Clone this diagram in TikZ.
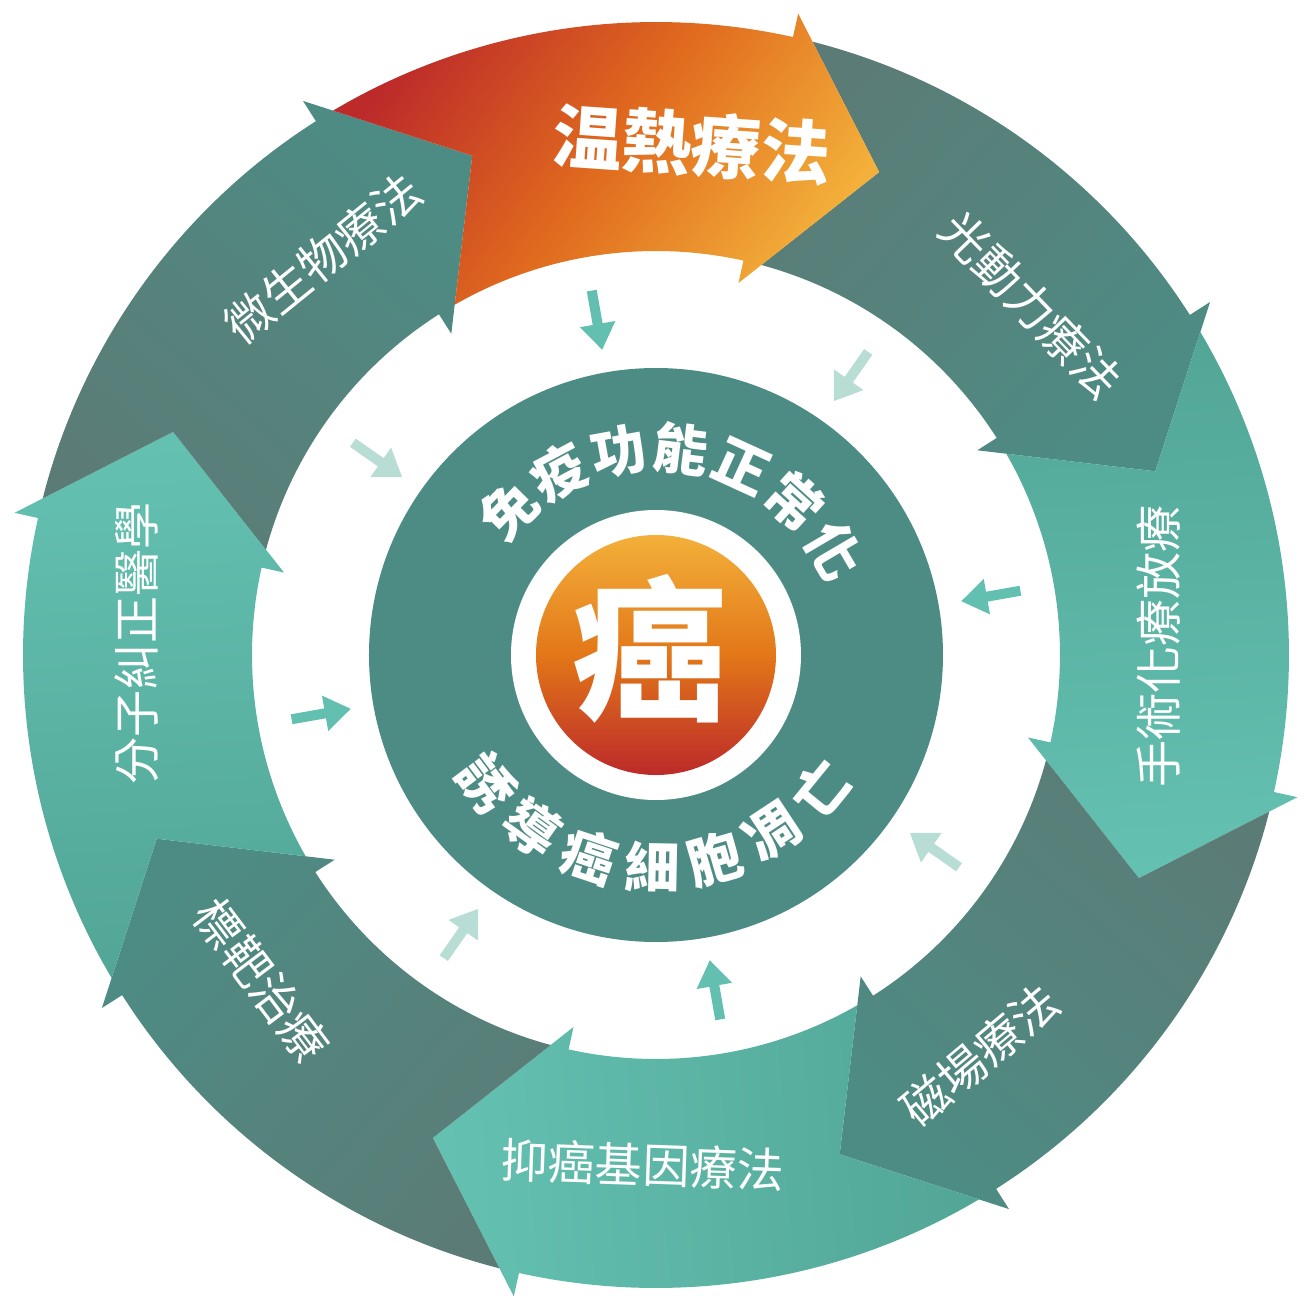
\documentclass[tikz,border=0pt]{standalone}
\usepackage{fontspec}
\setmainfont{Noto Sans CJK TC}
\usetikzlibrary{calc}

\definecolor{darktail}{HTML}{5B7C76}
\definecolor{darkhead}{HTML}{4D8C84}
\definecolor{lighttail}{HTML}{52A696}
\definecolor{lighthead}{HTML}{64C1B2}
\definecolor{hotred}{HTML}{BC2A2A}
\definecolor{hotmid}{HTML}{E06A1E}
\definecolor{hotyellow}{HTML}{F3B03A}
\definecolor{coreteal}{HTML}{4D8C84}
\definecolor{coreorange}{HTML}{EC8A14}
\definecolor{pointteal}{HTML}{63BFB0}
\definecolor{pointpale}{HTML}{B8DDD5}

\tikzstyle{darkarrow} = [left color=darktail, right color=darkhead]
\tikzstyle{lightarrow} = [left color=lighttail, right color=lighthead]
\tikzstyle{hotarrow} = [left color=hotred, right color=hotyellow, middle color=hotmid]
\tikzstyle{ringtext} = [text=white, inner sep=0pt, font=\fontsize{13.4}{16}\selectfont]
\tikzstyle{coretext} = [text=white, inner sep=0pt, font=\fontsize{15.6}{18}\selectfont\bfseries]

\begin{document}
\begin{tikzpicture}[x=0.1mm, y=0.1mm]
\useasboundingbox (-656,-659) rectangle (658,655);

% ring of eight arrows, each tail cut to fit the head before it
\foreach \b/\kind/\ang in {32.5/darkarrow/48.5,-12.5/lightarrow/3.5,-57.5/darkarrow/-41.5,-102.5/lightarrow/-86.5,-147.5/darkarrow/-131.5,167.5/lightarrow/183.5,122.5/darkarrow/138.5,77.5/hotarrow/55}
  \path[\kind, shading angle=\ang] (\b+43.18:633) arc[start angle=\b+43.18, end angle=\b, radius=633]
    -- (\b:657) -- (\b-12.3:532) -- (\b:381) -- (\b:404)
    arc[start angle=\b, end angle=\b+42.39, radius=404]
    -- (\b+32.7:532) -- cycle;

\node (hot) [text=white, inner sep=0pt, font=\fontsize{19.8}{22}\selectfont\bfseries, rotate=-4] at (86:512) {温熱療法};
\node (photo) [ringtext, rotate=-46] at (43:513) {光動力療法};
\node (surgery) [ringtext, rotate=90] at (1:503) {手術化療放療};
\node (magnet) [ringtext, rotate=40] at (-51:515) {磁場療法};
\node (gene) [ringtext, rotate=-2] at (-91.5:510) {抑癌基因療法};
\node (target) [ringtext, rotate=-53] at (-140.5:511) {標靶治療};
\node (molecule) [ringtext, rotate=90] at (178.7:520) {分子糾正醫學};
\node (microbe) [ringtext, rotate=39] at (130:518) {微生物療法};

% small arrows pointing in
\foreach \a/\c in {100/pointteal,55/pointpale,10/pointteal,-35/pointpale,-80/pointteal,-125/pointpale,-170/pointteal,145/pointpale}
  \fill[\c, rotate=\a] (370,-5) -- (336,-5) -- (336,-18) -- (310,0) -- (336,18) -- (336,5) -- (370,5) -- cycle;

% core
\fill[coreteal] (0,0) circle[radius=287];
\fill[white] (0,0) circle[radius=145];
\shade[top color=hotyellow, bottom color=hotred, middle color=coreorange!80!hotred] (0,0) circle[radius=120];
\node (cancer) [text=white, inner sep=0pt, font=\fontsize{44}{48}\selectfont\bfseries] at (-6,6) {癌};

\foreach \c [count=\i, evaluate=\i as \t using 135.4-(\i-1)*17.5] in {免,疫,功,能,正,常,化}
  \node (up\i) [coretext, rotate=\t-90] at (\t:207) {\c};
\foreach \c [count=\i, evaluate=\i as \t using -143+(\i-1)*17.3] in {誘,導,癌,細,胞,凋,亡}
  \node (down\i) [coretext, rotate=\t+90] at (\t:212) {\c};
\end{tikzpicture}
\end{document}
